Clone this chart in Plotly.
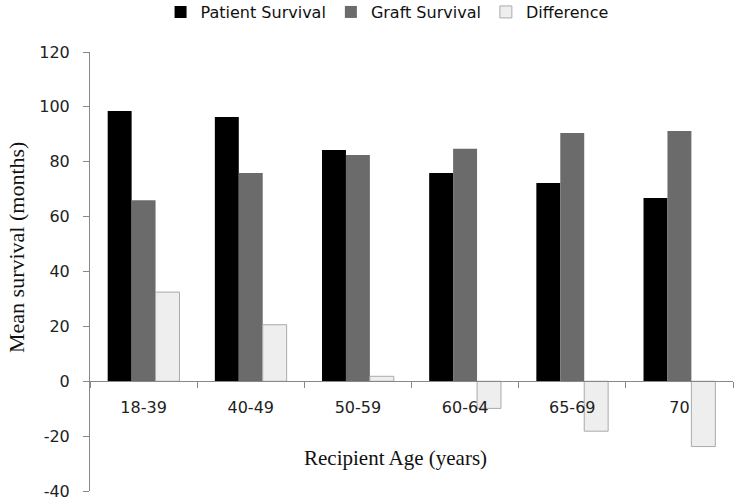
import plotly.graph_objects as go

categories = ["18-39", "40-49", "50-59", "60-64", "65-69", "70"]
patient_survival = [98.5, 96.3, 84.3, 75.9, 72.3, 66.8]
graft_survival = [66.0, 75.9, 82.5, 84.7, 90.5, 91.2]
difference = [32.5, 20.6, 1.8, -9.9, -18.2, -23.8]
y_ticks = [-40, -20, 0, 20, 40, 60, 80, 100, 120]
y_tick_labels = ["-40", "-20", "0", "20", "40", "60", "80", "100", "120"]

fig = go.Figure()
fig.add_trace(go.Bar(name="Patient Survival", x=categories, y=patient_survival,
                     marker=dict(color="#000000", line=dict(width=0))))
fig.add_trace(go.Bar(name="Graft Survival", x=categories, y=graft_survival,
                     marker=dict(color="#6b6b6b", line=dict(width=0))))
fig.add_trace(go.Bar(name="Difference", x=categories, y=difference,
                     marker=dict(color="#eeeeee", line=dict(color="#aaaaaa", width=1))))

fig.update_layout(
    width=737, height=501,
    margin=dict(l=90, r=4, t=52, b=10, autoexpand=False),
    paper_bgcolor="white", plot_bgcolor="white",
    barmode="group", bargap=0.33, bargroupgap=0,
    font=dict(family="DejaVu Sans", size=15, color="#222222"),
    showlegend=True,
    legend=dict(orientation="h", x=0.462, xanchor="center", y=1.091, yanchor="middle",
                font=dict(family="DejaVu Sans", size=16, color="#111111"),
                itemwidth=30, traceorder="normal"),
    xaxis=dict(anchor="free", position=0.25, showline=True, linecolor="#888888", linewidth=1,
               ticks="outside", tickson="boundaries", ticklen=6, tickcolor="#888888",
               showgrid=False, zeroline=False, ticklabelstandoff=12, automargin=False,
               tickfont=dict(family="DejaVu Sans", size=16, color="#222222"),
               range=[-0.5, 5.5]),
    yaxis=dict(range=[-40, 120], tickvals=y_ticks, ticktext=y_tick_labels,
               showline=True, linecolor="#888888", linewidth=1, automargin=False,
               ticks="outside", ticklen=6, tickcolor="#888888", showgrid=False, zeroline=False,
               ticklabelstandoff=10,
               tickfont=dict(family="DejaVu Sans", size=16, color="#222222")),
    annotations=[
        dict(text="Recipient Age (years)", xref="paper", yref="paper",
             x=(395 - 90) / 643, y=(491 - 458) / 439, xanchor="center", yanchor="middle",
             showarrow=False, font=dict(family="Liberation Serif", size=21, color="#111111")),
        dict(text="Mean survival (months)", xref="paper", yref="paper",
             x=(16 - 90) / 643, y=(491 - 248) / 439, xanchor="center", yanchor="middle",
             textangle=-90, showarrow=False,
             font=dict(family="Liberation Serif", size=22, color="#111111")),
    ],
)

fig.write_html("out.html", config={"displayModeBar": False},
               post_script="document.body.style.margin='0px';")
